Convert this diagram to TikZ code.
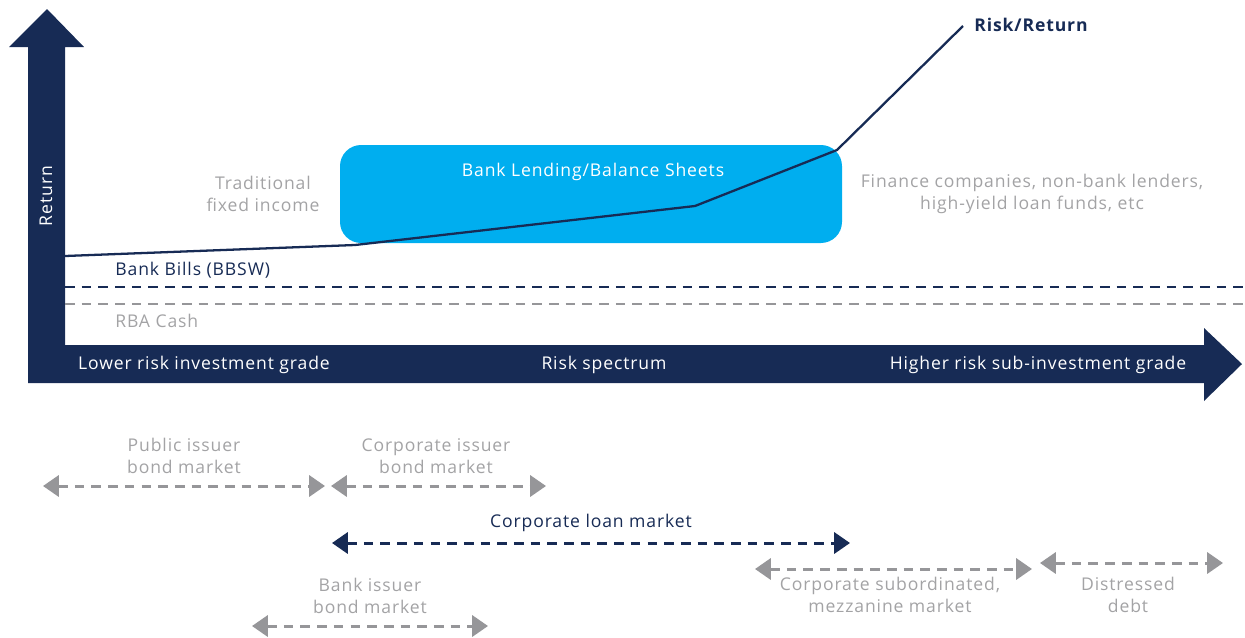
\documentclass[tikz,border=0pt]{standalone}
\usepackage{fontspec}
\setmainfont{Open Sans}[LetterSpace=5]
\usetikzlibrary{arrows.meta,positioning,calc}
\definecolor{rrnavy}{RGB}{23,43,85}
\definecolor{rrblue}{RGB}{0,174,239}
\definecolor{rrgrey}{RGB}{163,163,165}
\definecolor{rrdash}{RGB}{150,150,153}
\tikzstyle{txt} = [inner sep=0pt, align=center, font=\fontsize{10}{12.5}\selectfont]
\tikzstyle{axislabel} = [txt, text=white]
\tikzstyle{greylabel} = [txt, text=rrgrey]
\tikzstyle{navylabel} = [txt, text=rrnavy]
\tikzstyle{rateline} = [line width=1.5pt, dash pattern=on 5.5pt off 4pt]
\tikzstyle{market} = [line width=1.7pt, dash pattern=on 5.5pt off 4pt, color=rrdash, {Triangle[length=9pt,width=12pt]}-{Triangle[length=9pt,width=12pt]}]

\begin{document}
\begin{tikzpicture}[x=0.02cm, y=-0.02cm]
    \useasboundingbox (0,0) rectangle (1245,637);

    % Axes
    \fill[rrnavy] (28,383) -- (28,47) -- (9,47) -- (47,9) -- (84,47) -- (65,47) -- (65,345)
        -- (1204,345) -- (1204,328) -- (1242,364) -- (1204,401) -- (1204,383) -- cycle;
    \node[axislabel, rotate=90] (ret) at (46,196) {Return};
    \node[axislabel] (low) at (204,365) {Lower risk investment grade};
    \node[axislabel] (mid) at (604,365) {Risk spectrum};
    \node[axislabel] (high) at (1038,365) {Higher risk sub-investment grade};

    % Bank lending box
    \node[fill=rrblue, rounded corners=12pt, minimum width=502*0.02cm, minimum height=98*0.02cm,
        inner sep=0pt] (bank) at (591,194) {};
    \node[axislabel] (banktxt) at (593,172) {Bank Lending/Balance Sheets};

    % Side labels
    \node[greylabel] (trad) at (263,194) {Traditional\\fixed income};
    \node[greylabel] (nonbank) at (1032,194) {Finance companies, non-bank lenders,\\high-yield loan funds, etc};

    % Rates
    \coordinate (bbl) at (65,287);
    \coordinate (bbr) at (1245,287);
    \coordinate (rbl) at (65,304);
    \coordinate (rbr) at (1245,304);
    \draw[rateline, rrnavy] (bbl) -- (bbr);
    \draw[rateline, rrdash] (rbl) -- (rbr);
    \node[navylabel, anchor=west] (bbsw) at (115,270) {Bank Bills (BBSW)};
    \node[greylabel, anchor=west] (rba) at (115,321) {RBA Cash};

    % Risk/Return curve
    \node[navylabel, anchor=west, font=\fontsize{10}{12.5}\selectfont\bfseries] (rr) at (974,25) {Risk/Return};
    \coordinate (c0) at (65,256);
    \coordinate (c1) at (355,245);
    \coordinate (c2) at (695,206);
    \coordinate (c3) at (837,150);
    \coordinate (c4) at (963,26);
    \draw[rrnavy, line width=1.3pt, line join=round] (c0) -- (c1) -- (c2) -- (c3) -- (c4);

    % Markets
    \node[greylabel] (pub) at (184,456) {Public issuer\\bond market};
    \coordinate (publ) at (43,486);
    \coordinate (pubr) at (325,486);
    \draw[market] (publ) -- (pubr);

    \node[greylabel] (corp) at (436,456) {Corporate issuer\\bond market};
    \coordinate (corpl) at (331,486);
    \coordinate (corpr) at (546,486);
    \draw[market] (corpl) -- (corpr);

    \node[navylabel] (loan) at (591,523) {Corporate loan market};
    \coordinate (loanl) at (332,543);
    \coordinate (loanr) at (850,543);
    \draw[market, color=rrnavy] (loanl) -- (loanr);

    \node[greylabel] (mezz) at (890,595) {Corporate subordinated,\\mezzanine market};
    \coordinate (mezzl) at (755,569);
    \coordinate (mezzr) at (1032,569);
    \draw[market] (mezzl) -- (mezzr);

    \node[greylabel] (dist) at (1128,595) {Distressed\\debt};
    \coordinate (distl) at (1040,563);
    \coordinate (distr) at (1223,563);
    \draw[market] (distl) -- (distr);

    \node[greylabel] (bib) at (370,596) {Bank issuer\\bond market};
    \coordinate (bibl) at (252,626);
    \coordinate (bibr) at (488,626);
    \draw[market] (bibl) -- (bibr);
\end{tikzpicture}
\end{document}
